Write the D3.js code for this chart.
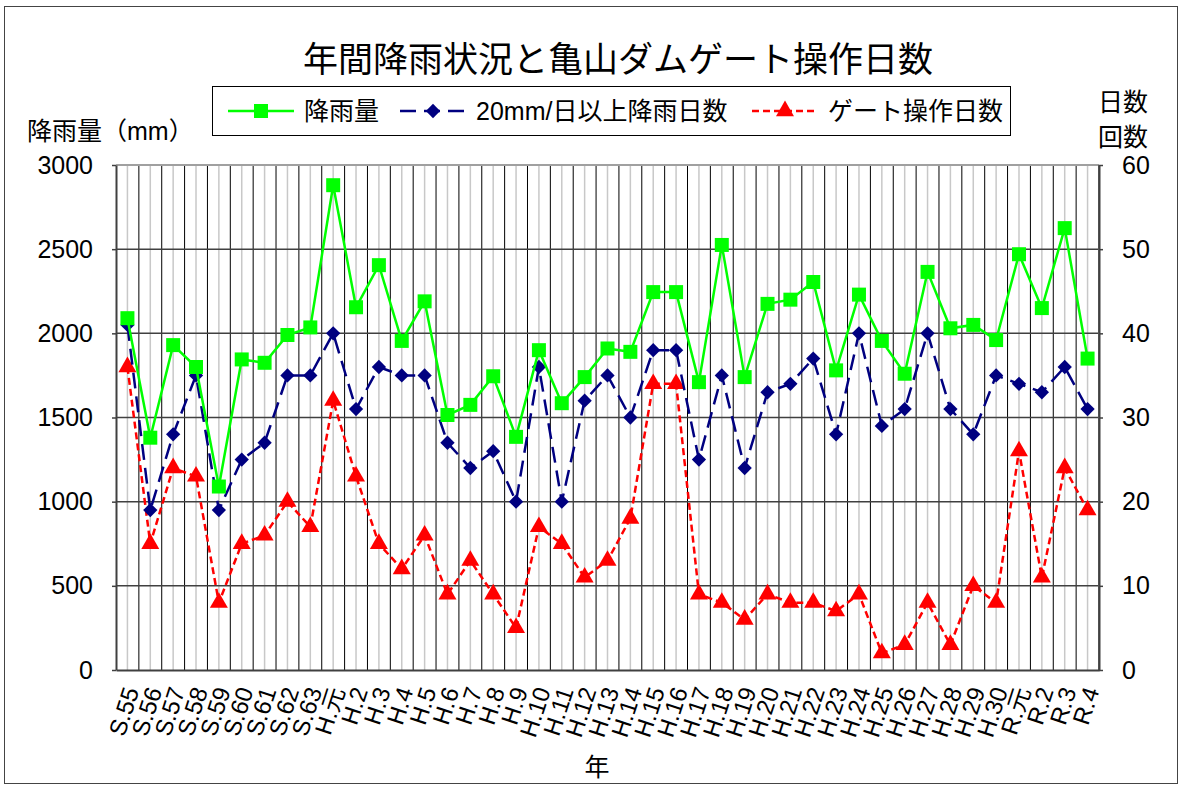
<!DOCTYPE html>
<html>
<head>
<meta charset="utf-8">
<script src="https://cdn.jsdelivr.net/npm/d3@7"></script>
<style>
	body { margin: 0; background: #fff; }
	svg { display: block; }
	text { font-family: "Liberation Sans", "Noto Sans CJK JP", sans-serif; fill: #000; }
</style>
</head>
<body>
<svg id="chart" width="1184" height="787"></svg>
<script>
(function() {
	'use strict';

	// categories (年)
	var years = ['S.55', 'S.56', 'S.57', 'S.58', 'S.59', 'S.60', 'S.61', 'S.62', 'S.63', 'H.元',
		'H.2', 'H.3', 'H.4', 'H.5', 'H.6', 'H.7', 'H.8', 'H.9', 'H.10', 'H.11',
		'H.12', 'H.13', 'H.14', 'H.15', 'H.16', 'H.17', 'H.18', 'H.19', 'H.20', 'H.21',
		'H.22', 'H.23', 'H.24', 'H.25', 'H.26', 'H.27', 'H.28', 'H.29', 'H.30', 'R.元',
		'R.2', 'R.3', 'R.4'];

	// 降雨量 (mm)
	var rainfall = [2090, 1380, 1930, 1800, 1090, 1845, 1825, 1990, 2035, 2880,
		2155, 2405, 1955, 2190, 1515, 1575, 1745, 1385, 1900, 1585,
		1740, 1910, 1890, 2245, 2245, 1710, 2525, 1740, 2175, 2200,
		2305, 1780, 2230, 1955, 1760, 2365, 2030, 2050, 1960, 2470,
		2150, 2625, 1850];

	// 20mm/日以上降雨日数
	var heavyDays = [41, 19, 28, 35, 19, 25, 27, 35, 35, 40,
		31, 36, 35, 35, 27, 24, 26, 20, 36, 20,
		32, 35, 30, 38, 38, 25, 35, 24, 33, 34,
		37, 28, 40, 29, 31, 40, 31, 28, 35, 34,
		33, 36, 31];

	// ゲート操作日数
	var gateDays = [36, 15, 24, 23, 8, 15, 16, 20, 17, 32,
		23, 15, 12, 16, 9, 13, 9, 5, 17, 15,
		11, 13, 18, 34, 34, 9, 8, 6, 9, 8,
		8, 7, 9, 2, 3, 8, 3, 10, 8, 26,
		11, 24, 19];

	var rainTicks = [0, 500, 1000, 1500, 2000, 2500, 3000];
	var dayTicks = [0, 10, 20, 30, 40, 50, 60];

	var left = 116, right = 1099, top = 165, bottom = 670;
	var fontStack = '"Liberation Sans", "Noto Sans CJK JP", sans-serif';

	var svg = d3.select('#chart');

	// outer frame
	svg.append('rect')
		.attr('x', 4.5).attr('y', 6.5)
		.attr('width', 1173).attr('height', 777)
		.attr('fill', 'none')
		.attr('stroke', '#444')
		.attr('stroke-width', 1);

	var x = d3.scaleBand().domain(years).range([left, right]).paddingInner(0).paddingOuter(0);
	var bw = x.bandwidth();
	var yRain = d3.scaleLinear().domain([0, 3000]).range([bottom, top]);
	var yDays = d3.scaleLinear().domain([0, 60]).range([bottom, top]);

	var grid = svg.append('g');

	// light centre lines
	grid.selectAll('line.mid')
		.data(years)
		.enter()
		.append('line')
		.attr('class', 'mid')
		.attr('x1', function(d) { return x(d) + bw / 2; })
		.attr('x2', function(d) { return x(d) + bw / 2; })
		.attr('y1', top).attr('y2', bottom)
		.attr('stroke', '#c8c8c8')
		.attr('stroke-width', 1.5);

	// category boundaries
	grid.selectAll('line.bound')
		.data(years.slice(1))
		.enter()
		.append('line')
		.attr('class', 'bound')
		.attr('x1', function(d) { return x(d); })
		.attr('x2', function(d) { return x(d); })
		.attr('y1', top).attr('y2', bottom)
		.attr('stroke', '#000')
		.attr('stroke-width', 1);

	// horizontal gridlines
	grid.selectAll('line.h')
		.data(rainTicks.slice(1, -1))
		.enter()
		.append('line')
		.attr('class', 'h')
		.attr('x1', left).attr('x2', right)
		.attr('y1', function(d) { return yRain(d); })
		.attr('y2', function(d) { return yRain(d); })
		.attr('stroke', '#404040')
		.attr('stroke-width', 1.5);

	// plot frame
	svg.append('line').attr('x1', left).attr('x2', right).attr('y1', top).attr('y2', top)
		.attr('stroke', '#a0a0a0').attr('stroke-width', 2);
	svg.append('line').attr('x1', right).attr('x2', right).attr('y1', top).attr('y2', bottom)
		.attr('stroke', '#606060').attr('stroke-width', 2);

	// axes
	var axL = svg.append('g')
		.attr('transform', 'translate(' + left + ',0)')
		.call(d3.axisLeft(yRain).tickValues(rainTicks).tickFormat(d3.format('d'))
			.tickSizeInner(4).tickSizeOuter(0).tickPadding(19));
	var axR = svg.append('g')
		.attr('transform', 'translate(' + right + ',0)')
		.call(d3.axisRight(yDays).tickValues(dayTicks).tickSizeInner(4).tickSizeOuter(0).tickPadding(19));
	var axB = svg.append('g')
		.attr('transform', 'translate(0,' + bottom + ')')
		.call(d3.axisBottom(x).tickSize(0).tickPadding(0));

	[axL, axR, axB].forEach(function(a) {
		a.select('.domain').attr('stroke', '#404040').attr('stroke-width', 2);
		a.selectAll('.tick line').attr('stroke', '#404040').attr('stroke-width', 1.5);
		a.selectAll('text').attr('font-size', 25).attr('font-family', fontStack).attr('fill', '#000');
	});

	axB.selectAll('.tick text')
		.attr('font-size', 24)
		.attr('text-anchor', 'end')
		.attr('dy', '0.35em')
		.attr('y', 0)
		.attr('transform', 'translate(4,18) rotate(-72)');

	// series
	var idx = d3.range(years.length);
	var cx = function(i) { return x(years[i]) + bw / 2; };

	function drawSeries(values, yScale, color, dash, symbol, size) {
		var line = d3.line()
			.x(function(i) { return cx(i); })
			.y(function(i) { return yScale(values[i]); });
		svg.append('path')
			.datum(idx)
			.attr('d', line)
			.attr('fill', 'none')
			.attr('stroke', color)
			.attr('stroke-width', 2.5)
			.attr('stroke-dasharray', dash);
		svg.append('g').selectAll('path')
			.data(idx)
			.enter()
			.append('path')
			.attr('d', d3.symbol().type(symbol).size(size))
			.attr('transform', function(i) { return 'translate(' + cx(i) + ',' + yScale(values[i]) + ')'; })
			.attr('fill', color);
	}

	drawSeries(gateDays, yDays, '#ff0000', '7,4', d3.symbolTriangle, 140);
	drawSeries(heavyDays, yDays, '#000080', '16,8', d3.symbolDiamond2, 130);
	drawSeries(rainfall, yRain, '#00ff00', null, d3.symbolSquare, 196);

	// title and labels
	svg.append('text')
		.attr('x', 618).attr('y', 72)
		.attr('text-anchor', 'middle')
		.attr('font-size', 35)
		.text('年間降雨状況と亀山ダムゲート操作日数');

	svg.append('text')
		.attr('x', 27).attr('y', 140)
		.attr('font-size', 25)
		.text('降雨量（mm）');

	svg.append('text').attr('x', 1098).attr('y', 111).attr('font-size', 25).text('日数');
	svg.append('text').attr('x', 1098).attr('y', 146).attr('font-size', 25).text('回数');

	svg.append('text')
		.attr('x', 597).attr('y', 776)
		.attr('text-anchor', 'middle')
		.attr('font-size', 25)
		.text('年');

	// legend
	var legend = svg.append('g');
	legend.append('rect')
		.attr('x', 212.5).attr('y', 86.5)
		.attr('width', 798).attr('height', 49)
		.attr('fill', '#fff')
		.attr('stroke', '#000')
		.attr('stroke-width', 1);

	var legendItems = [
		{ name: '降雨量', color: '#00ff00', dash: null, symbol: d3.symbolSquare, size: 196, x: 228 },
		{ name: '20mm/日以上降雨日数', color: '#000080', dash: '16,8', symbol: d3.symbolDiamond2, size: 130, x: 400 },
		{ name: 'ゲート操作日数', color: '#ff0000', dash: '7,4', symbol: d3.symbolTriangle, size: 140, x: 752 }
	];
	var ly = 111;
	legendItems.forEach(function(it) {
		legend.append('line')
			.attr('x1', it.x).attr('x2', it.x + 66)
			.attr('y1', ly).attr('y2', ly)
			.attr('stroke', it.color)
			.attr('stroke-width', 2.5)
			.attr('stroke-dasharray', it.dash);
		legend.append('path')
			.attr('d', d3.symbol().type(it.symbol).size(it.size))
			.attr('transform', 'translate(' + (it.x + 33) + ',' + ly + ')')
			.attr('fill', it.color);
		legend.append('text')
			.attr('x', it.x + 76).attr('y', ly + 9)
			.attr('font-size', 25)
			.text(it.name);
	});
}());
</script>
</body>
</html>
